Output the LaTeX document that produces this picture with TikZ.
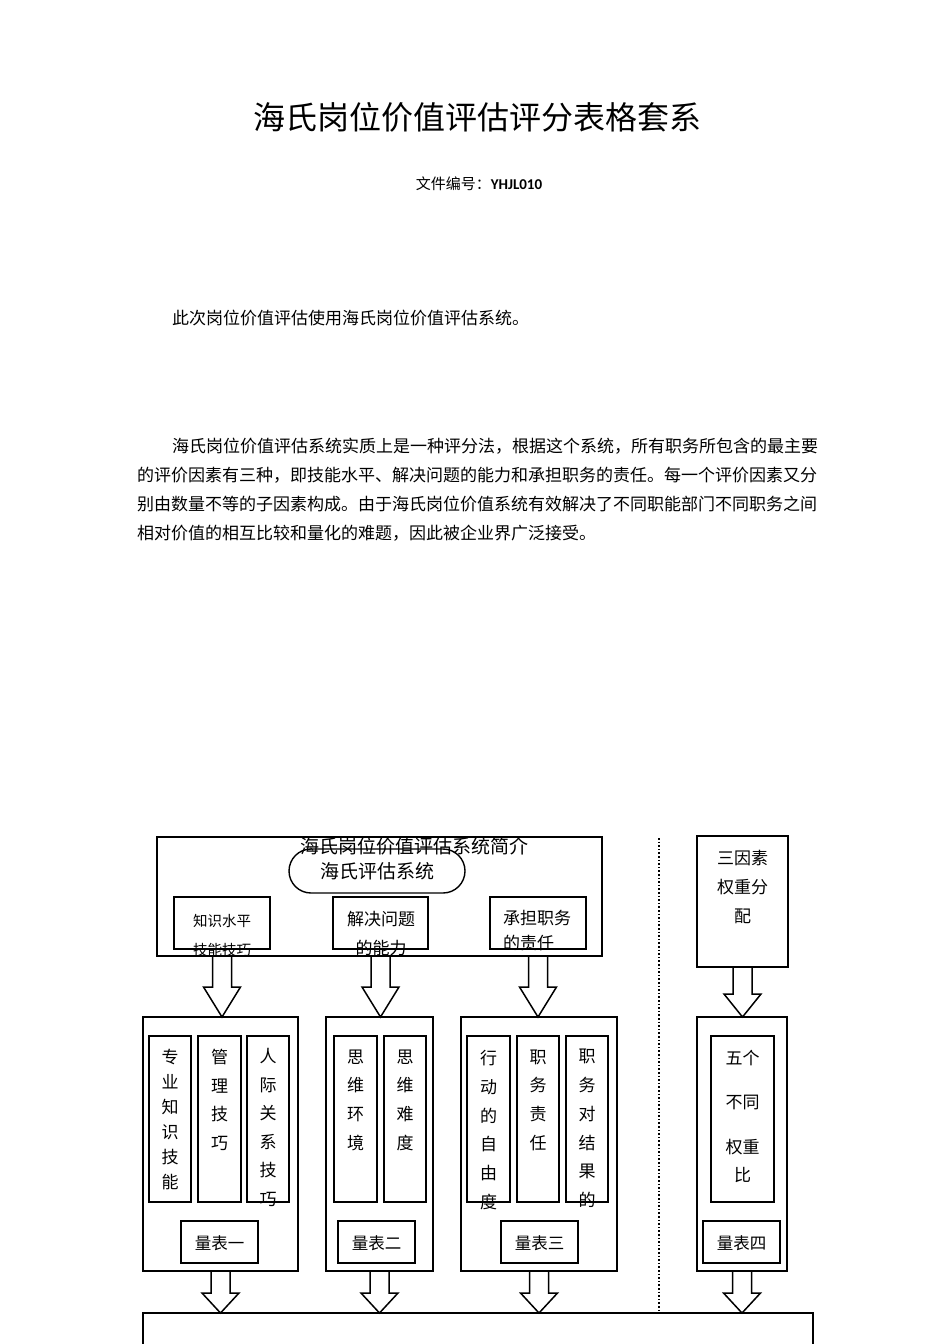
\documentclass[tikz,border=0pt]{standalone}
\usepackage{fontspec}
\setmainfont{Noto Sans CJK SC}
\newfontfamily\latinfont{Carlito}
\usetikzlibrary{calc}
\newcommand\fs[1]{\fontsize{#1}{#1}\selectfont}
\newcommand\blockarrow[4]{%
  \draw[barrow] let \p1=(#1), \p2=(#2), \p3=(#3) in
   (\x1-9.5pt,\y2) -- (\x1-9.5pt,\y3+#4) -- (\x1-18.5pt,\y3+#4) -- (\x1,\y3)
   -- (\x1+18.5pt,\y3+#4) -- (\x1+9.5pt,\y3+#4) -- (\x1+9.5pt,\y2);}
\tikzset{
  txt/.style={inner sep=0pt, outer sep=0pt, text=black},
  vtxt/.style={txt, align=center},
  thinbox/.style={draw, line width=1.4pt, inner sep=0pt, outer sep=0pt},
  thickbox/.style={draw, line width=2.4pt, inner sep=0pt, outer sep=0pt},
  colbox/.style={draw, line width=2pt, inner sep=0pt, outer sep=0pt},
  barrow/.style={draw, line width=1.5pt, line join=miter},
}
\begin{document}
\begin{tikzpicture}[x=1pt, y=-1pt]
\fill[white] (0,0) rectangle (950,1344);
\useasboundingbox (0,0) rectangle (950,1344);

% header and body text
\node[txt, font=\fs{32}] (title) at (477.5,117) {海氏岗位价值评估评分表格套系};
\node[txt, font=\fs{15}] (docno) at (479,184) {文件编号：{\latinfont\bfseries YHJL010}};
\node[txt, anchor=west, font=\fs{17}] (p1) at (172,318) {此次岗位价值评估使用海氏岗位价值评估系统。};
\node[txt, anchor=west, font=\fs{17}] (p2a) at (172,446) {海氏岗位价值评估系统实质上是一种评分法，根据这个系统，所有职务所包含的最主要};
\node[txt, anchor=west, font=\fs{17}] (p2b) at (137,475) {的评价因素有三种，即技能水平、解决问题的能力和承担职务的责任。每一个评价因素又分};
\node[txt, anchor=west, font=\fs{17}] (p2c) at (137,504) {别由数量不等的子因素构成。由于海氏岗位价值系统有效解决了不同职能部门不同职务之间};
\node[txt, anchor=west, font=\fs{17}] (p2d) at (137,533) {相对价值的相互比较和量化的难题，因此被企业界广泛接受。};

% top section
\node[thinbox, minimum width=445pt, minimum height=119pt] (outerTop) at (379.5,896.5) {};
\node[txt, font=\fs{19}] (topTitle) at (414,846) {海氏岗位价值评估系统简介};
\node[thinbox, rounded corners=22pt, minimum width=176pt, minimum height=44pt] (hay) at (377,871) {};
\node[txt, font=\fs{19}] (hayT) at (377,871) {海氏评估系统};

\node[thickbox, minimum width=96pt, minimum height=52pt] (boxA) at (222,923) {};
\node[txt, font=\fs{14.5}] (boxAt1) at (222,921) {知识水平};
\node[txt, font=\fs{14.5}] (boxAt2) at (222,950) {技能技巧};
\node[thinbox, line width=1.8pt, minimum width=95pt, minimum height=52pt] (boxB) at (380.5,923) {};
\node[txt, font=\fs{17}] (boxBt1) at (381,919) {解决问题};
\node[txt, font=\fs{17}] (boxBt2) at (381,948) {的能力};
\node[thickbox, minimum width=96pt, minimum height=52pt] (boxC) at (538,923) {};
\node[txt, font=\fs{17}, anchor=west] (boxCt1) at (503,918) {承担职务};
\node[txt, font=\fs{17}, anchor=west] (boxCt2) at (503,943) {的责任};

\node[thinbox, minimum width=91pt, minimum height=131pt] (rightTop) at (742.5,901.5) {};
\node[vtxt, font=\fontsize{17}{29}\selectfont] (rightTopT) at (742.5,887) {三因素\\权重分\\配};

% dotted separator
\coordinate (dTop) at (659,838);
\coordinate (dBot) at (659,1310);
\draw[dotted, line width=1.6pt] (dTop) -- (dBot);

% lower boxes
\node[thinbox, minimum width=155pt, minimum height=254pt] (low1) at (220.5,1144) {};
\node[thinbox, minimum width=107pt, minimum height=254pt] (low2) at (379.5,1144) {};
\node[thinbox, minimum width=156pt, minimum height=254pt] (low3) at (539,1144) {};
\node[thinbox, minimum width=90pt, minimum height=254pt] (low4) at (742,1144) {};

\node[colbox, minimum width=42pt, minimum height=166pt] (c11) at (170,1119) {};
\node[colbox, minimum width=43pt, minimum height=166pt] (c12) at (219.5,1119) {};
\node[colbox, minimum width=42pt, minimum height=166pt] (c13) at (268,1119) {};
\node[colbox, minimum width=43pt, minimum height=166pt] (c21) at (355.5,1119) {};
\node[colbox, minimum width=42pt, minimum height=166pt] (c22) at (405,1119) {};
\node[colbox, minimum width=43pt, minimum height=166pt] (c31) at (488.5,1119) {};
\node[colbox, minimum width=42pt, minimum height=166pt] (c32) at (538,1119) {};
\node[colbox, minimum width=42pt, minimum height=166pt] (c33) at (587,1119) {};
\node[colbox, minimum width=63pt, minimum height=166pt] (c41) at (742.5,1119) {};

\node[vtxt, font=\fontsize{17}{25}\selectfont] (t11) at (170,1119.5) {专\\业\\知\\识\\技\\能};
\node[vtxt, font=\fontsize{17}{28.7}\selectfont] (t12) at (219.5,1100) {管\\理\\技\\巧};
\node[vtxt, font=\fontsize{17}{28.6}\selectfont] (t13) at (268,1127.5) {人\\际\\关\\系\\技\\巧};
\node[vtxt, font=\fontsize{17}{28.7}\selectfont] (t21) at (355.5,1100) {思\\维\\环\\境};
\node[vtxt, font=\fontsize{17}{28.7}\selectfont] (t22) at (405,1100) {思\\维\\难\\度};
\node[vtxt, font=\fontsize{17}{28.8}\selectfont] (t31) at (488.5,1130) {行\\动\\的\\自\\由\\度};
\node[vtxt, font=\fontsize{17}{28.7}\selectfont] (t32) at (538,1100) {职\\务\\责\\任};
\node[vtxt, font=\fontsize{17}{28.7}\selectfont] (t33) at (587,1128.5) {职\\务\\对\\结\\果\\的};
\node[txt, font=\fs{17}] (t41a) at (742.5,1058) {五个};
\node[txt, font=\fs{17}] (t41b) at (742.5,1102) {不同};
\node[txt, font=\fs{17}] (t41c) at (742.5,1147) {权重};
\node[txt, font=\fs{17}] (t41d) at (742.5,1175) {比};

\node[thickbox, minimum width=77pt, minimum height=42pt] (s1) at (219.5,1242) {};
\node[thickbox, minimum width=77pt, minimum height=42pt] (s2) at (376.5,1242) {};
\node[thickbox, minimum width=77pt, minimum height=42pt] (s3) at (539.5,1242) {};
\node[thickbox, minimum width=77pt, minimum height=42pt] (s4) at (741.5,1242) {};
\node[txt, font=\fs{16.5}] (s1t) at (219.5,1243) {量表一};
\node[txt, font=\fs{16.5}] (s2t) at (376.5,1243) {量表二};
\node[txt, font=\fs{16.5}] (s3t) at (539.5,1243) {量表三};
\node[txt, font=\fs{16.5}] (s4t) at (741.5,1243) {量表四};

% bottom box (continues past the page)
\node[draw, line width=2pt, inner sep=0pt, outer sep=0pt, minimum width=670pt, minimum height=100pt] (bottom) at (478,1363) {};

% block arrows
\blockarrow{boxA.south}{outerTop.south}{low1.north}{30pt}
\blockarrow{boxB.south}{outerTop.south}{low2.north}{30pt}
\blockarrow{boxC.south}{outerTop.south}{low3.north}{30pt}
\blockarrow{rightTop.south}{rightTop.south}{low4.north}{23pt}
\blockarrow{low1.south}{low1.south}{bottom.north}{20pt}
\blockarrow{low2.south}{low2.south}{bottom.north}{20pt}
\blockarrow{low3.south}{low3.south}{bottom.north}{20pt}
\blockarrow{low4.south}{low4.south}{bottom.north}{20pt}
\end{tikzpicture}
\end{document}
